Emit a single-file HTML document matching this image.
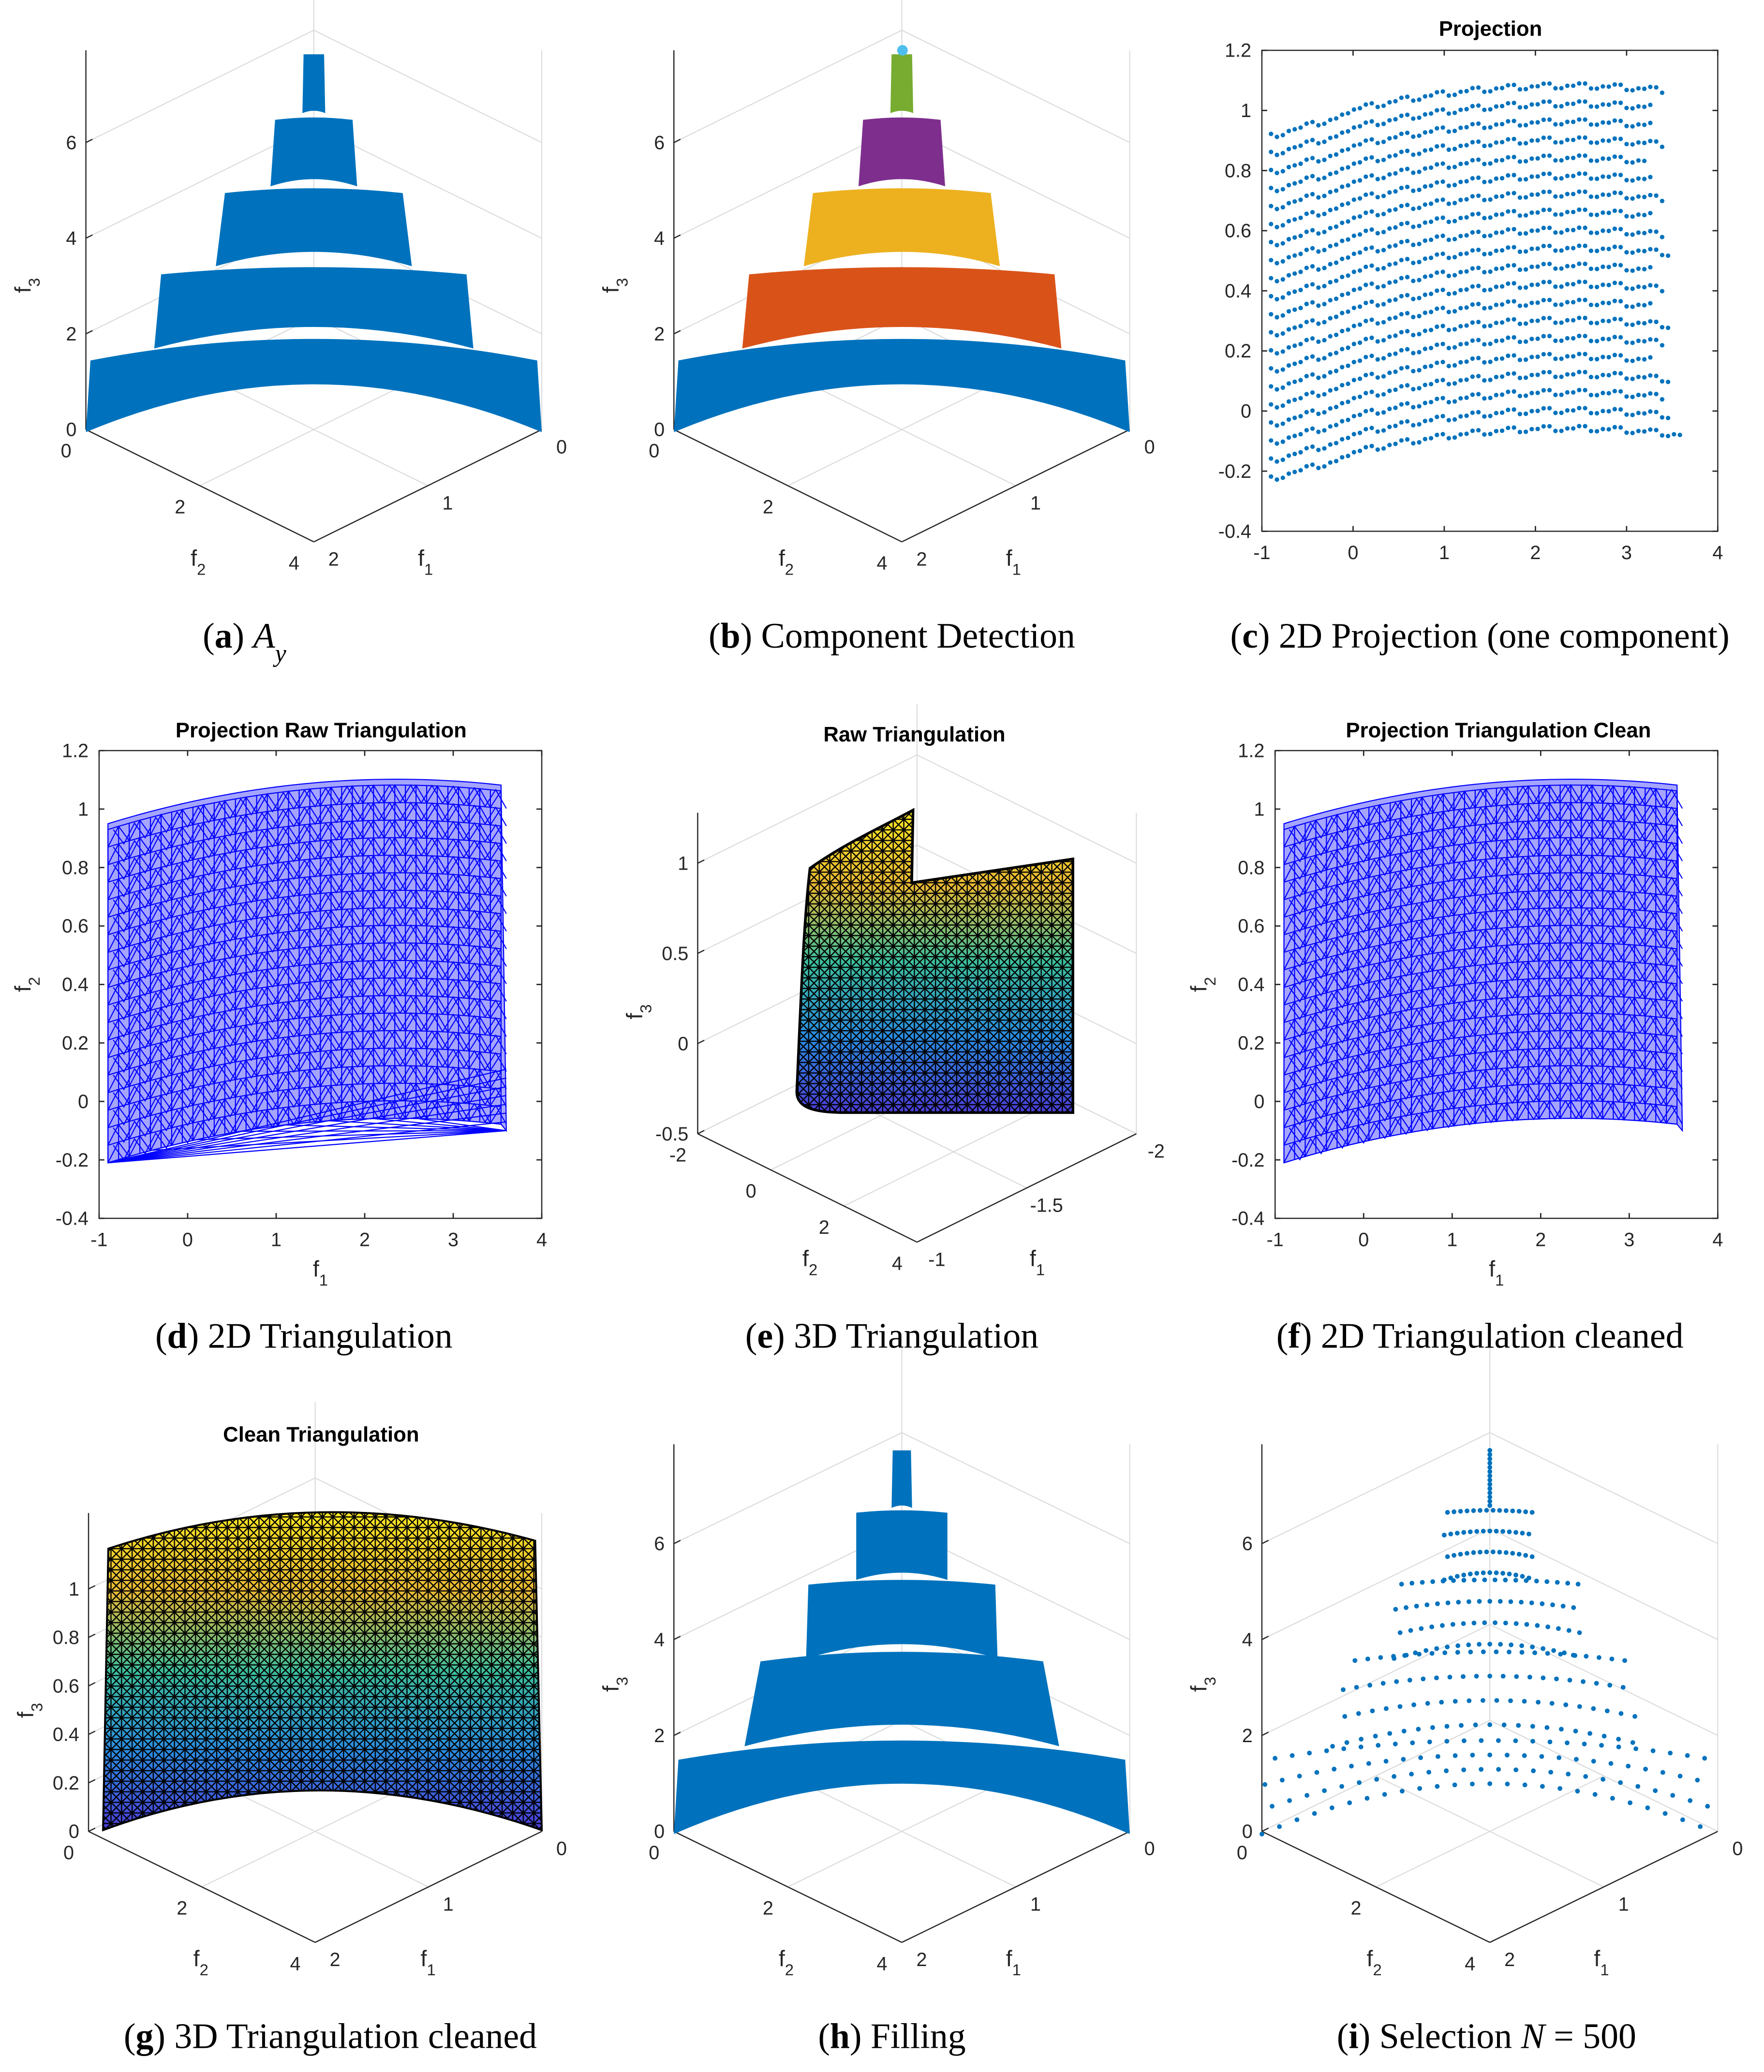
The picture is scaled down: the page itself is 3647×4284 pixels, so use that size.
<!DOCTYPE html>
<html><head><meta charset="utf-8">
<style>
html,body{margin:0;padding:0;background:#fff;}
svg{display:block;}
.tk{font-family:"Liberation Sans",sans-serif;font-size:14.5px;fill:#262626;}
.al{font-family:"Liberation Sans",sans-serif;font-size:17px;fill:#262626;}
.ttl{font-family:"Liberation Sans",sans-serif;font-size:16px;font-weight:bold;fill:#000;}
.cap{font-family:"Liberation Serif",serif;font-size:27px;fill:#000;}
</style></head>
<body>
<svg id="fig" xmlns="http://www.w3.org/2000/svg" width="3647" height="4284" viewBox="0 0 1335 1568">
<defs>
<linearGradient id="parula" x1="0" y1="0" x2="0" y2="1">
<stop offset="0" stop-color="#F9E721"/><stop offset="0.25" stop-color="#E9B935"/><stop offset="0.5" stop-color="#3CBF9C"/><stop offset="0.75" stop-color="#2A8CE0"/><stop offset="1" stop-color="#4B3CD6"/>
</linearGradient>
<pattern id="blackmesh" width="8" height="8" patternUnits="userSpaceOnUse">
<path d="M0 0L8 8M8 0L0 8M0 4H8M4 0V8" stroke="#000" stroke-width="0.9" fill="none"/>
</pattern>
</defs>
</svg>
<script>
// ---------- data ----------
// tiers: [zBottomSide, zTopSide, widthBottom, widthTop, centerRiseBottom, centerRiseTop]
const tiersA = [[0,1.5,1.0,0.98,1.0,0.45],[1.75,3.3,0.70,0.67,0.45,0.15],[3.47,5.0,0.43,0.39,0.3,0.1],[5.14,6.53,0.19,0.17,0.15,0.05],[6.67,7.9,0.05,0.045,0.05,0.0]];
const tiersH = [[0,1.55,1.0,0.98,1.05,0.4],[1.83,3.6,0.69,0.62,0.45,0.2],[3.66,5.2,0.42,0.41,0.3,0.1],[5.3,6.7,0.2,0.2,0.15,0.05],[6.8,8.0,0.045,0.04,0.05,0.0]];
const tierColorsB = ['#0072BD','#D95319','#EDB120','#7E2F8E','#77AC30'];
const zTicks3 = [0,2,4,6];
const zTicksE = [-0.5,0,0.5,1];
const zTicksG = [0,0.2,0.4,0.6,0.8,1];
const xTicks2 = [-1,0,1,2,3,4];
const yTicks2 = [-0.4,-0.2,0,0.2,0.4,0.6,0.8,1,1.2];
const rowBase = [-0.21,-0.15,-0.09,-0.03,0.03,0.09,0.15,0.21,0.27,0.33,0.39,0.45,0.51,0.57,0.63,0.69,0.75,0.81,0.87,0.93];
const rowEnd = [3.6,3.5,3.4,3.5,3.3,3.4,3.5,3.3,3.4,3.3,3.5,3.4,3.3,3.4,3.3,3.2,3.4,3.3,3.3,3.4];
const dotsPerRowI = [13,11,9,7,5];

const NS='http://www.w3.org/2000/svg';
const svg=document.getElementById('fig');
function mk(tag,attrs,parent){const e=document.createElementNS(NS,tag);for(const k in attrs)e.setAttribute(k,attrs[k]);(parent||svg).appendChild(e);return e;}
function txt(x,y,s,cls,anchor,parent){const e=mk('text',{x:x,y:y,class:cls,'text-anchor':anchor||'middle'},parent);e.textContent=s;return e;}
function sublabel(x,y,base,sub,rot,parent){
  const t=mk('text',{x:x,y:y,class:'al','text-anchor':'middle'},parent);
  if(rot)t.setAttribute('transform','rotate(-90 '+x+' '+y+')');
  const a=mk('tspan',{},t);a.textContent=base;
  const b=mk('tspan',{'baseline-shift':'sub','font-size':'12px'},t);b.textContent=sub;
  return t;
}

function axes3d(name,L,R,Y0,FY,topY,zt,zUnit,zZero,f2t,f1t){
  const g=mk('g',{});
  
  
  const cx=(L+R)/2, BY=2*Y0-FY, d=FY-Y0;
  const gs={stroke:'#dcdcdc','stroke-width':0.8,fill:'none'};
  zt.forEach(v=>{const y=Y0-(v-zZero)*zUnit;const p=mk('polyline',Object.assign({points:L+','+y+' '+cx+','+(y-d)+' '+R+','+y},gs),g);
    
    });
  mk('line',Object.assign({x1:cx,y1:BY,x2:cx,y2:topY-d},gs),g);
  mk('line',Object.assign({x1:R,y1:Y0,x2:R,y2:topY},gs),g);
  f2t.forEach((s,i)=>{const t=i/(f2t.length-1);const x=L+t*(cx-L),y=Y0+t*d;mk('line',Object.assign({x1:x,y1:y,x2:x+(R-cx),y2:y-d},gs),g);});
  f1t.forEach((s,i)=>{const t=i/(f1t.length-1);const x=cx+t*(R-cx),y=FY-t*d;mk('line',Object.assign({x1:x,y1:y,x2:x-(cx-L),y2:y-d},gs),g);});
  const as={stroke:'#262626','stroke-width':0.9};
  mk('line',Object.assign({x1:L,y1:Y0,x2:L,y2:topY},as),g);
  mk('line',Object.assign({x1:L,y1:Y0,x2:cx,y2:FY},as),g);
  mk('line',Object.assign({x1:cx,y1:FY,x2:R,y2:Y0},as),g);
  zt.forEach(v=>{const y=Y0-(v-zZero)*zUnit;mk('line',Object.assign({x1:L,y1:y,x2:L+5,y2:y-2.5},as),g);
    const t=txt(L-7,y+5,String(v),'tk','end',g);
    
    });
  f2t.forEach((s,i)=>{const t=i/(f2t.length-1);const x=L+t*(cx-L),y=Y0+t*d;const e=txt(x-15,y+21,s,'tk','middle',g);
    
    });
  f1t.forEach((s,i)=>{const t=i/(f1t.length-1);const x=cx+t*(R-cx),y=FY-t*d;const e=txt(x+15,y+18,s,'tk','middle',g);
    
    });
  const a1=sublabel(L+85,FY+18,'f','2',false,g);
  
  
  const a2=sublabel(L+257,FY+18,'f','1',false,g);
  
  
  const a3=sublabel(L-42,Y0-(Y0-topY)*0.38,'f','3',true,g);
  
  
  return g;
}
function tierPath(t,L,R,Y0,zU){
  const cx=(L+R)/2,H=(R-L)/2;
  const yb=Y0-t[0]*zU, yt=Y0-t[1]*zU;
  const xb1=cx-t[2]*H,xb2=cx+t[2]*H,xt1=cx-t[3]*H,xt2=cx+t[3]*H;
  return 'M'+xb1+' '+yb+' Q'+cx+' '+(yb-2*t[4]*zU)+' '+xb2+' '+yb+' L'+xt2+' '+yt+' Q'+cx+' '+(yt-2*t[5]*zU)+' '+xt1+' '+yt+' Z';
}
function tiersPanel(name,tiers,colors,L,R,Y0,zU){
  const g=mk('g',{});
  
  
  tiers.forEach((t,i)=>{const p=mk('path',{d:tierPath(t,L,R,Y0,zU),fill:colors[i]||'#0072BD'},g);
    
    });
  return g;
}
function axes2d(name,x0,x1,y0,y1,labels){
  const g=mk('g',{});
  
  
  const sx=v=>x0+(v+1)/5*(x1-x0), sy=v=>y1-(v+0.4)/1.6*(y1-y0);
  mk('rect',{x:x0,y:y0,width:x1-x0,height:y1-y0,fill:'none',stroke:'#262626','stroke-width':0.9},g);
  xTicks2.forEach(v=>{const x=sx(v);mk('line',{x1:x,y1:y1,x2:x,y2:y1-4,stroke:'#262626'},g);mk('line',{x1:x,y1:y0,x2:x,y2:y0+4,stroke:'#262626'},g);
    const t=txt(x,y1+21,String(v),'tk','middle',g);
    
    });
  yTicks2.forEach(v=>{const y=sy(v);mk('line',{x1:x0,y1:y,x2:x0+4,y2:y,stroke:'#262626'},g);mk('line',{x1:x1,y1:y,x2:x1-4,y2:y,stroke:'#262626'},g);
    const t=txt(x0-8,y+5,String(Math.round(v*10)/10),'tk','end',g);
    
    });
  if(labels){
    const a=sublabel((x0+x1)/2,y1+44,'f','1',false,g);
    
    
    const b=sublabel(x0-52,(y0+y1)/2,'f','2',true,g);
    
    
  }
  return {sx,sy};
}
function rowY(i,x){const u=(x+0.9)/4.5;return rowBase[i]+0.42*u-0.29*u*u;}
function scatterPanel(ax){
  const g=mk('g',{fill:'#0072BD'});
  
  
  rowBase.forEach((b,i)=>{for(let x=-0.9;x<=rowEnd[i];x+=0.065){const y=rowY(i,x)+((Math.round(x*100)%3)-1)*0.008;
    const c=mk('circle',{cx:ax.sx(x),cy:ax.sy(y),r:1.7},g);
    
    }});
}
function meshPanel(ax,name,fan){
  const g=mk('g',{stroke:'#0000FF','stroke-width':0.8,fill:'none'});
  
  
  const n=rowBase.length;
  const xs=[];for(let x=-0.9;x<=3.55;x+=0.12)xs.push(x);
  let pts=[];xs.forEach(x=>pts.push(ax.sx(x)+','+ax.sy(rowY(n-1,x)+0.02)));
  pts.push(ax.sx(3.6)+','+ax.sy(-0.1));
  for(let k=xs.length-1;k>=0;k--)pts.push(ax.sx(xs[k])+','+ax.sy(rowY(0,xs[k])));
  mk('polygon',{points:pts.join(' '),fill:'rgba(40,40,255,0.42)'},g);
  for(let i=0;i<n;i++){mk('polyline',{points:xs.map(x=>ax.sx(x)+','+ax.sy(rowY(i,x))).join(' ')},g);}
  for(let i=0;i<n-1;i++){let p='';xs.forEach((x,k)=>{const yy=k%2?rowY(i+1,x):rowY(i,x);p+=ax.sx(x)+','+ax.sy(yy)+' ';});mk('polyline',{points:p},g);
    let q='';xs.forEach((x,k)=>{const yy=k%2?rowY(i,x):rowY(i+1,x);q+=ax.sx(x+0.06)+','+ax.sy(yy)+' ';});mk('polyline',{points:q},g);}
  xs.forEach(x=>mk('line',{x1:ax.sx(x),y1:ax.sy(rowY(0,x)),x2:ax.sx(x),y2:ax.sy(rowY(n-1,x))},g));
  if(fan){for(let k=0;k<8;k++){mk('line',{x1:ax.sx(-0.9),y1:ax.sy(-0.21),x2:ax.sx(3.6),y2:ax.sy(-0.1+k*0.03)},g);mk('line',{x1:ax.sx(3.6),y1:ax.sy(-0.1),x2:ax.sx(-0.9+k*0.5),y2:ax.sy(rowY(0,-0.9+k*0.5))},g);}}
}

axes3d('panel-a',65,410,325,410,38,zTicks3,36.2,0,['0','2','4'],['2','1','0']);
tiersPanel('panel-a-tiers',tiersA,['#0072BD','#0072BD','#0072BD','#0072BD','#0072BD'],65,410,327,36.2);
axes3d('panel-b',510,855,325,410,38,zTicks3,36.2,0,['0','2','4'],['2','1','0']);
tiersPanel('panel-b-tiers',tiersA,tierColorsB,510,855,327,36.2);
const peak=mk('circle',{cx:683,cy:38,r:4,fill:'#4DBEEE'});


const axC=axes2d('panel-c',955,1300,38,402,false);
scatterPanel(axC);
const axD=axes2d('panel-d',75,410,568,922,true);
meshPanel(axD,'panel-d-mesh',true);
const axF=axes2d('panel-f',965,1300,568,922,true);
meshPanel(axF,'panel-f-mesh',false);
axes3d('panel-e',528,860,858,940,615,zTicksE,136.5,-0.5,['-2','0','2','4'],['-1','-1.5','-2']);
const surfE='M603 826 C606 760 608 700 613 657 C640 638 665 627 691 613 L690 668 L812 650 L812 842 L640 842 C615 842 603 838 603 826 Z';
const e1=mk('path',{d:surfE,fill:'url(#parula)'});


const e2=mk('path',{d:surfE,fill:'url(#blackmesh)',stroke:'#000','stroke-width':2});


axes3d('panel-g',67,410,1386,1470,1145,zTicksG,183.5,0,['0','2','4'],['2','1','0']);
const surfG='M78 1385 L82 1172 Q240 1120 405 1166 L410 1385 Q240 1325 78 1385 Z';
const g1=mk('path',{d:surfG,fill:'url(#parula)'});


const g2=mk('path',{d:surfG,fill:'url(#blackmesh)',stroke:'#000','stroke-width':1.5});


axes3d('panel-h',510,855,1386,1470,1093,zTicks3,36.3,0,['0','2','4'],['2','1','0']);
tiersPanel('panel-h-tiers',tiersH,['#0072BD','#0072BD','#0072BD','#0072BD','#0072BD'],510,855,1388,36.3);
axes3d('panel-i',955,1300,1386,1470,1093,zTicks3,36.3,0,['0','2','4'],['2','1','0']);
(function(){
  const L=955,R=1300,Y0=1388,zU=36.3,cx=(L+R)/2,H=(R-L)/2;
  const g=mk('g',{fill:'#0072BD'});
  
  
  tiersH.forEach((t,i)=>{
    const n=dotsPerRowI[i]*2, rows=i===4?14:4;
    for(let r=0;r<rows;r++){const f=r/(rows-1);
      const z=t[0]+f*(t[1]-t[0]), w=t[2]+f*(t[3]-t[2]), c=t[4]+f*(t[5]-t[4]);
      const m=i===4?1:n;
      for(let k=0;k<m;k++){const u=m===1?0.5:(k+(r%2)*0.5)/m;const x=cx+(u*2-1)*w*H;const y=Y0-z*zU-c*zU*(1-(u*2-1)*(u*2-1));
        const d=mk('circle',{cx:x,cy:y,r:1.8},g);
        
        }
    }
  });
})();
[['Projection',1128,27],['Projection Raw Triangulation',243,558],['Raw Triangulation',692,561],['Projection Triangulation Clean',1134,558],['Clean Triangulation',243,1091]].forEach(a=>{
  const t=txt(a[1],a[2],a[0],'ttl','middle');
  
  });
function caption(x,y,letter,rest,italicVar){
  const t=mk('text',{x:x,y:y,class:'cap','text-anchor':'middle'});
  
  
  const a=mk('tspan',{},t);a.textContent='(';
  const b=mk('tspan',{'font-weight':'bold'},t);b.textContent=letter;
  const c=mk('tspan',{},t);c.textContent=') '+rest;
  if(italicVar){const d=mk('tspan',{'font-style':'italic'},t);d.textContent=italicVar[0];
    if(italicVar[1]){const s=mk('tspan',{'font-style':'italic','baseline-shift':'sub','font-size':'19px'},t);s.textContent=italicVar[1];}
    if(italicVar[2]){const s2=mk('tspan',{},t);s2.textContent=italicVar[2];}}
}
caption(185,490,'a','',['A','y']);
caption(675,490,'b','Component Detection');
caption(1120,490,'c','2D Projection (one component)');
caption(230,1020,'d','2D Triangulation');
caption(675,1020,'e','3D Triangulation');
caption(1120,1020,'f','2D Triangulation cleaned');
caption(250,1550,'g','3D Triangulation cleaned');
caption(675,1550,'h','Filling');
caption(1125,1550,'i','Selection ',['N','',' = 500']);
</script>
</body></html>
